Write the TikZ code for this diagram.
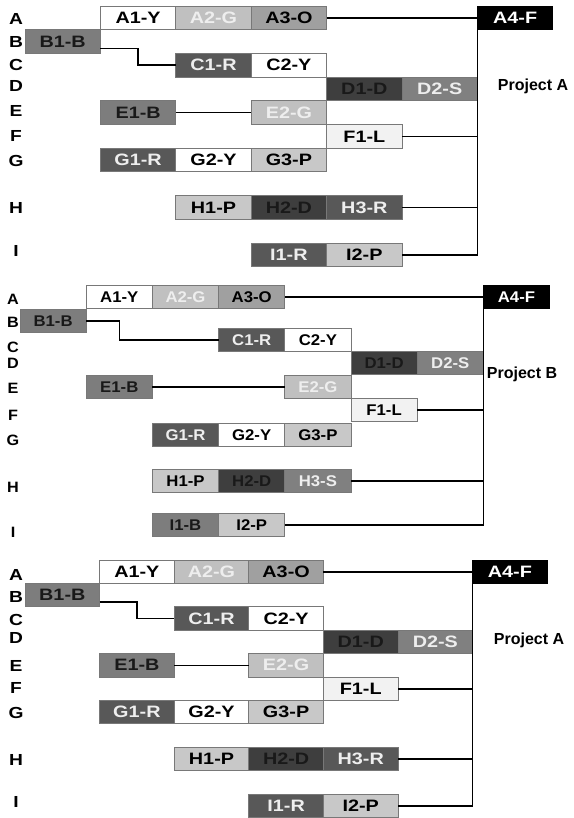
\documentclass[tikz,border=0pt]{standalone}
\usepackage{fontspec}
\setmainfont{Liberation Sans}
\newfontfamily\tilefont[FakeStretch=1.2]{Liberation Sans}
\newfontfamily\tilefontnarrow[FakeStretch=1.08]{Liberation Sans}
\usetikzlibrary{positioning}
\definecolor{tileedge}{RGB}{120,120,120}
\definecolor{shadeG}{RGB}{192,192,192}
\definecolor{shadeO}{RGB}{160,160,160}
\definecolor{shadeB}{RGB}{125,125,125}
\definecolor{shadeR}{RGB}{88,88,88}
\definecolor{shadeD}{RGB}{62,62,62}
\definecolor{shadeS}{RGB}{128,128,128}
\definecolor{shadeL}{RGB}{242,242,242}
\definecolor{shadeP}{RGB}{200,200,200}
\definecolor{paletext}{RGB}{238,238,238}
\tikzset{
    tile/.style={rectangle, draw=tileedge, line width=0.8pt, inner sep=0pt, outer sep=0pt, text centered, font=\tilefont\bfseries\fontsize{16.5}{18}\selectfont},
    tileY/.style={tile, fill=white, text=black},
    tileG/.style={tile, fill=shadeG, text=paletext},
    tileO/.style={tile, fill=shadeO, text=black},
    tileB/.style={tile, fill=shadeB, text=black!90},
    tileR/.style={tile, fill=shadeR, text=paletext},
    tileD/.style={tile, fill=shadeD, text=black!90},
    tileS/.style={tile, fill=shadeS, text=paletext},
    tileL/.style={tile, fill=shadeL, text=black},
    tileP/.style={tile, fill=shadeP, text=black},
    tileF/.style={tile, draw=black, fill=black, text=white},
    rowlabel/.style={font=\tilefont\bfseries\fontsize{16}{18}\selectfont},
    project/.style={font=\bfseries\fontsize{16}{18}\selectfont},
    link/.style={draw=black, line width=1.6pt}
}

\begin{document}
\begin{tikzpicture}[x=1pt, y=-1pt]
    \useasboundingbox (0,0) rectangle (573,818);

    % Top panel
    \begin{scope}[tile/.append style={minimum width=75.4pt, minimum height=23.7pt}]
        \foreach \l/\y in {A/19, B/42, C/65, D/86, E/111, F/136, G/161, H/208, I/251}
            \node[rowlabel] (p1row\l) at (16,\y) {\l};

        \node[tileY, anchor=north west] (p1a1) at (100.4,6) {A1-Y};
        \node[tileG, right=0pt of p1a1] (p1a2) {A2-G};
        \node[tileO, right=0pt of p1a2] (p1a3) {A3-O};
        \node[tileF, anchor=north west] (p1a4) at (477.4,6) {A4-F};
        \node[tileB, anchor=north west] (p1b1) at (25,29.7) {B1-B};
        \node[tileR, anchor=north west] (p1c1) at (175.8,53.4) {C1-R};
        \node[tileY, right=0pt of p1c1] (p1c2) {C2-Y};
        \node[tileD, anchor=north west] (p1d1) at (326.6,77.1) {D1-D};
        \node[tileS, right=0pt of p1d1] (p1d2) {D2-S};
        \node[tileB, anchor=north west] (p1e1) at (100.4,100.8) {E1-B};
        \node[tileG, anchor=north west] (p1e2) at (251.2,100.8) {E2-G};
        \node[tileL, anchor=north west] (p1f1) at (326.6,124.5) {F1-L};
        \node[tileR, anchor=north west] (p1g1) at (100.4,148.2) {G1-R};
        \node[tileY, right=0pt of p1g1] (p1g2) {G2-Y};
        \node[tileP, right=0pt of p1g2] (p1g3) {G3-P};
        \node[tileP, anchor=north west] (p1h1) at (175.8,195.6) {H1-P};
        \node[tileD, right=0pt of p1h1] (p1h2) {H2-D};
        \node[tileR, right=0pt of p1h2] (p1h3) {H3-R};
        \node[tileR, anchor=north west] (p1i1) at (251.2,243) {I1-R};
        \node[tileP, right=0pt of p1i1] (p1i2) {I2-P};

        \node[project] (p1name) at (533,86) {Project A};

        % Connections
        \coordinate (p1bout) at ([yshift=-7pt]p1b1.east);
        \coordinate (p1foot) at (p1i2.east -| p1a4.south west);
        \draw[link] (p1a3) -- (p1a4);
        \draw[link] (p1bout) -- (p1bout -| p1a1.south) |- (p1c1.west);
        \draw[link] (p1e1) -- (p1e2);
        \draw[link] (p1a4.south west) -- (p1foot) -- (p1i2.east);
        \draw[link] (p1f1.east) -- (p1f1.east -| p1a4.south west);
        \draw[link] (p1h3.east) -- (p1h3.east -| p1a4.south west);
    \end{scope}

    % Middle panel
    \begin{scope}[tile/.append style={minimum width=66.2pt, minimum height=23.5pt, font=\tilefontnarrow\bfseries\fontsize{15.5}{18}\selectfont},
                  rowlabel/.append style={font=\tilefontnarrow\bfseries\fontsize{15}{18}\selectfont}]
        \foreach \l/\y in {A/299, B/322, C/347, D/363, E/388, F/415, G/440, H/487, I/532}
            \node[rowlabel] (p2row\l) at (13,\y) {\l};

        \node[tileY, anchor=north west] (p2a1) at (86.2,285) {A1-Y};
        \node[tileG, right=0pt of p2a1] (p2a2) {A2-G};
        \node[tileO, right=0pt of p2a2] (p2a3) {A3-O};
        \node[tileF, anchor=north west] (p2a4) at (483.4,285) {A4-F};
        \node[tileB, anchor=north west] (p2b1) at (20,309) {B1-B};
        \node[tileR, anchor=north west] (p2c1) at (218.6,328) {C1-R};
        \node[tileY, right=0pt of p2c1] (p2c2) {C2-Y};
        \node[tileD, anchor=north west] (p2d1) at (351,351) {D1-D};
        \node[tileS, right=0pt of p2d1] (p2d2) {D2-S};
        \node[tileB, anchor=north west] (p2e1) at (86.2,375) {E1-B};
        \node[tileG, anchor=north west] (p2e2) at (284.8,375) {E2-G};
        \node[tileL, anchor=north west] (p2f1) at (351,398) {F1-L};
        \node[tileR, anchor=north west] (p2g1) at (152.4,423) {G1-R};
        \node[tileY, right=0pt of p2g1] (p2g2) {G2-Y};
        \node[tileP, right=0pt of p2g2] (p2g3) {G3-P};
        \node[tileP, anchor=north west] (p2h1) at (152.4,469) {H1-P};
        \node[tileD, right=0pt of p2h1] (p2h2) {H2-D};
        \node[tileS, right=0pt of p2h2] (p2h3) {H3-S};
        \node[tileB, anchor=north west] (p2i1) at (152.4,513) {I1-B};
        \node[tileP, right=0pt of p2i1] (p2i2) {I2-P};

        \node[project] (p2name) at (522,374) {Project B};

        % Connections
        \coordinate (p2foot) at (p2i2.east -| p2a4.south west);
        \draw[link] (p2a3) -- (p2a4);
        \draw[link] (p2b1.east) -- (p2b1.east -| p2a1.south) |- (p2c1.west);
        \draw[link] (p2e1) -- (p2e2);
        \draw[link] (p2a4.south west) -- (p2foot) -- (p2i2.east);
        \draw[link] (p2f1.east) -- (p2f1.east -| p2a4.south west);
        \draw[link] (p2h3.east) -- (p2h3.east -| p2a4.south west);
    \end{scope}

    % Bottom panel
    \begin{scope}[tile/.append style={minimum width=74.6pt, minimum height=23.4pt}]
        \foreach \l/\y in {A/575, B/597, C/620, D/638, E/666, F/688, G/713, H/760, I/802}
            \node[rowlabel] (p3row\l) at (16,\y) {\l};

        \node[tileY, anchor=north west] (p3a1) at (99.6,560) {A1-Y};
        \node[tileG, right=0pt of p3a1] (p3a2) {A2-G};
        \node[tileO, right=0pt of p3a2] (p3a3) {A3-O};
        \node[tileF, anchor=north west] (p3a4) at (472.6,560) {A4-F};
        \node[tileB, anchor=north west] (p3b1) at (25,583.4) {B1-B};
        \node[tileR, anchor=north west] (p3c1) at (174.2,606.8) {C1-R};
        \node[tileY, right=0pt of p3c1] (p3c2) {C2-Y};
        \node[tileD, anchor=north west] (p3d1) at (323.4,630.2) {D1-D};
        \node[tileS, right=0pt of p3d1] (p3d2) {D2-S};
        \node[tileB, anchor=north west] (p3e1) at (99.6,653.6) {E1-B};
        \node[tileG, anchor=north west] (p3e2) at (248.8,653.6) {E2-G};
        \node[tileL, anchor=north west] (p3f1) at (323.4,677) {F1-L};
        \node[tileR, anchor=north west] (p3g1) at (99.6,700.4) {G1-R};
        \node[tileY, right=0pt of p3g1] (p3g2) {G2-Y};
        \node[tileP, right=0pt of p3g2] (p3g3) {G3-P};
        \node[tileP, anchor=north west] (p3h1) at (174.2,747.2) {H1-P};
        \node[tileD, right=0pt of p3h1] (p3h2) {H2-D};
        \node[tileR, right=0pt of p3h2] (p3h3) {H3-R};
        \node[tileR, anchor=north west] (p3i1) at (248.8,794) {I1-R};
        \node[tileP, right=0pt of p3i1] (p3i2) {I2-P};

        \node[project] (p3name) at (529,640) {Project A};

        % Connections
        \coordinate (p3bout) at ([yshift=-7pt]p3b1.east);
        \coordinate (p3foot) at (p3i2.east -| p3a4.south west);
        \draw[link] (p3a3) -- (p3a4);
        \draw[link] (p3bout) -- (p3bout -| p3a1.south) |- (p3c1.west);
        \draw[link] (p3e1) -- (p3e2);
        \draw[link] (p3a4.south west) -- (p3foot) -- (p3i2.east);
        \draw[link] (p3f1.east) -- (p3f1.east -| p3a4.south west);
        \draw[link] (p3h3.east) -- (p3h3.east -| p3a4.south west);
    \end{scope}
\end{tikzpicture}
\end{document}
